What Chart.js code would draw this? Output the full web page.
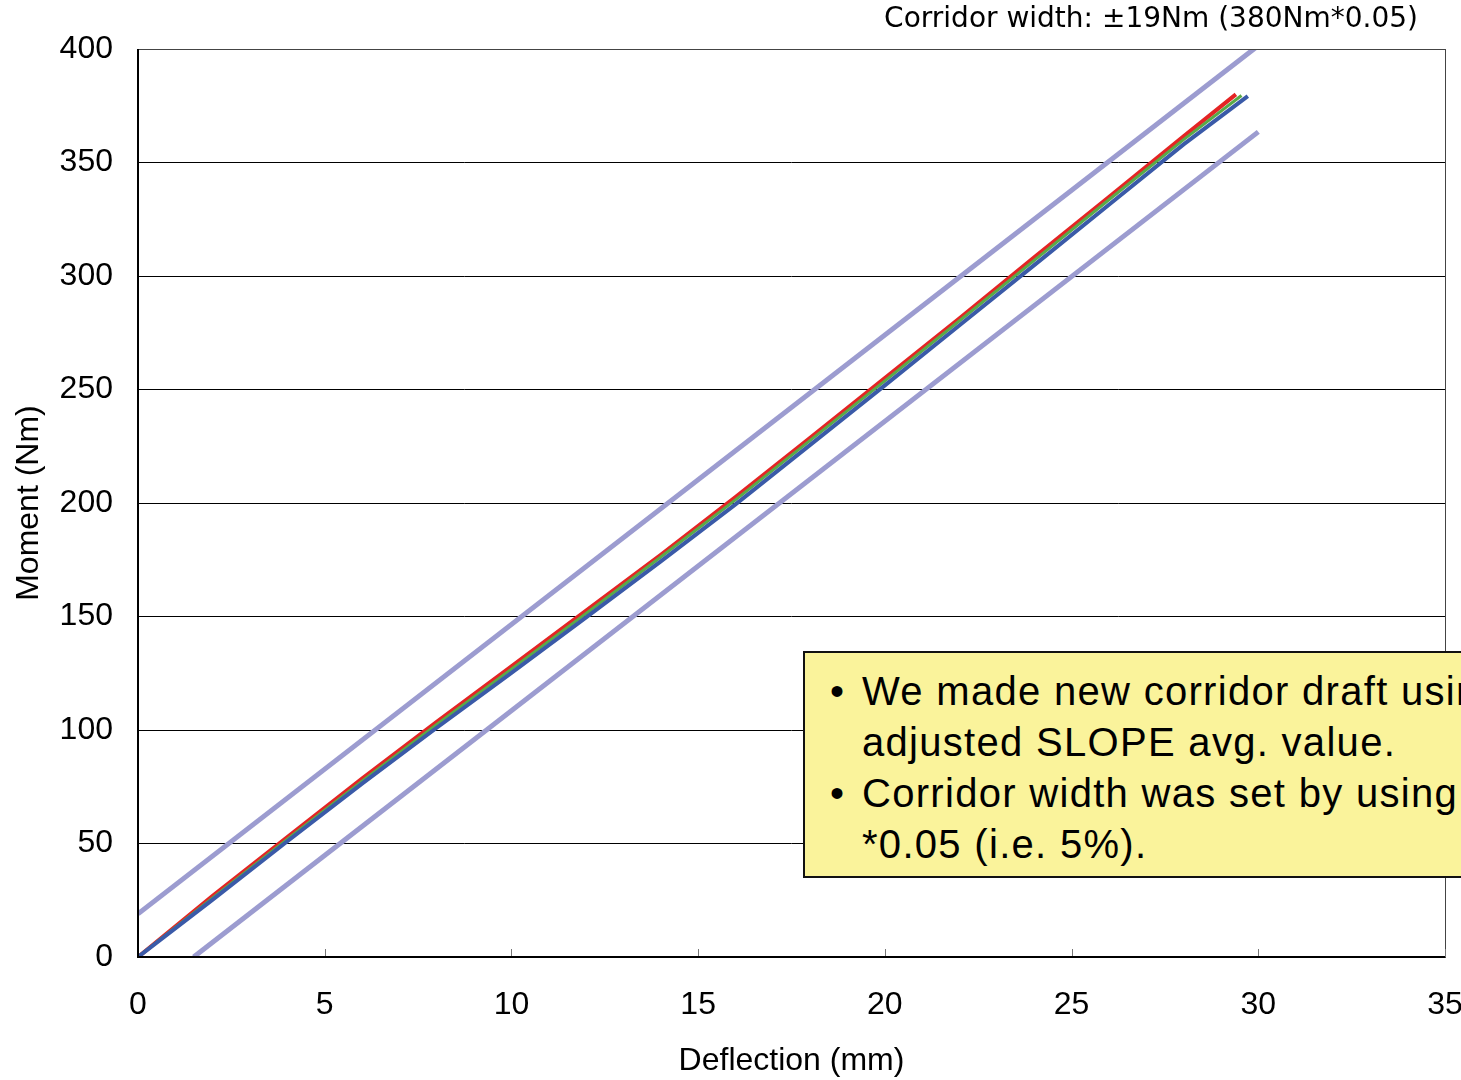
<!DOCTYPE html>
<html>
<head>
<meta charset="utf-8">
<script src="https://cdn.jsdelivr.net/npm/chart.js@4/dist/chart.umd.min.js"></script>
<style>
  html, body { margin: 0; padding: 0; background: #fff; overflow: hidden; }
  #wrap { position: relative; width: 1480px; height: 1080px; }
  #caption {
    position: absolute; right: 62px; top: 1px;
    font: 28px "DejaVu Sans", sans-serif; color: #000; white-space: nowrap;
  }
  #note {
    position: absolute; left: 803px; top: 651px; width: 700px; height: 227px;
    background: #faf39b; border: 2px solid #111; box-sizing: border-box;
    font: 40px "Liberation Sans", Arial, sans-serif; letter-spacing: 1.3px; color: #000; line-height: 51px;
    padding: 13px 0 0 57px;
  }
  #note div { position: relative; white-space: nowrap; }
  #note .b::before { content: "\2022"; position: absolute; left: -32px; }
</style>
</head>
<body>
<div id="wrap">
  <canvas id="chart" width="1480" height="1080"></canvas>
  <div id="caption">Corridor width: ±19Nm (380Nm*0.05)</div>
  <div id="note">
    <div class="b">We made new corridor draft using</div>
    <div>adjusted SLOPE avg. value.</div>
    <div class="b">Corridor width was set by using 380Nm</div>
    <div>*0.05 (i.e. 5%).</div>
  </div>
</div>
<script>
// deflection (mm) sample points for the measured runs
const defl = [0, 2, 4, 6, 8, 10, 12, 14, 16, 18, 20, 22, 24, 26, 28];
const redMoment   = [0, 27.0, 52.8, 78.6, 103.6, 128.0, 152.6, 177.2, 202.6, 228.7, 255.0, 281.4, 308.2, 334.8, 361.5];
const greenMoment = [0, 26.0, 51.9, 77.4, 102.5, 126.8, 151.3, 176.2, 201.4, 227.6, 253.8, 280.3, 306.9, 333.6, 360.1];
const blueMoment  = [0, 25.3, 51.0, 76.4, 101.0, 125.2, 149.6, 174.3, 199.4, 225.6, 251.8, 278.3, 304.8, 331.4, 358.0];
const runEnds = { red: [29.4, 380], green: [29.55, 379.5], blue: [29.72, 379.2] };

// corridor: slope avg line +/- 19Nm
const upperCorridor = [[0, 19], [30, 401.5]];
const lowerCorridor = [[1.49, 0], [30, 363.5]];

const xTicks = [0, 5, 10, 15, 20, 25, 30, 35];
const yTicks = [0, 50, 100, 150, 200, 250, 300, 350, 400];

function toPoints(xs, ys, end) {
    const pts = xs.map((x, i) => ({ x: x, y: ys[i] }));
    if (end) pts.push({ x: end[0], y: end[1] });
    return pts;
}
function pairs(arr) {
    return arr.map(p => ({ x: p[0], y: p[1] }));
}

const lineStyle = { showLine: true, pointRadius: 0, fill: false, tension: 0 };

// frame + inward x ticks, like the original plot
const framePlugin = {
    id: 'frame',
    afterDatasetsDraw(chart) {
        const { ctx, chartArea: a, scales } = chart;
        ctx.save();
        ctx.strokeStyle = '#444';
        ctx.lineWidth = 1;
        ctx.strokeRect(a.left + 0.5, a.top + 0.5, a.right - a.left, a.bottom - a.top);
        ctx.strokeStyle = '#777';
        xTicks.forEach(v => {
            const px = Math.round(scales.x.getPixelForValue(v)) + 0.5;
            ctx.beginPath();
            ctx.moveTo(px, a.bottom);
            ctx.lineTo(px, a.bottom - 8);
            ctx.stroke();
        });
        ctx.strokeStyle = '#000';
        ctx.lineWidth = 2;
        ctx.beginPath();
        ctx.moveTo(a.left, a.top);
        ctx.lineTo(a.left, a.bottom);
        ctx.lineTo(a.right, a.bottom);
        ctx.stroke();
        ctx.restore();
    }
};

new Chart(document.getElementById('chart'), {
    type: 'scatter',
    data: {
        datasets: [
            { label: 'run 3', data: toPoints(defl, blueMoment, runEnds.blue), borderColor: '#3a5aa8', borderWidth: 4, ...lineStyle },
            { label: 'run 2', data: toPoints(defl, greenMoment, runEnds.green), borderColor: '#5aaa48', borderWidth: 3, ...lineStyle },
            { label: 'run 1', data: toPoints(defl, redMoment, runEnds.red), borderColor: '#e42424', borderWidth: 4, ...lineStyle },
            { label: 'upper', data: pairs(upperCorridor), borderColor: '#9c9cd0', borderWidth: 5, ...lineStyle },
            { label: 'lower', data: pairs(lowerCorridor), borderColor: '#9c9cd0', borderWidth: 5, ...lineStyle }
        ]
    },
    options: {
        responsive: false,
        animation: false,
        layout: { padding: { top: 49, right: 35, left: 0, bottom: 0 } },
        plugins: { legend: { display: false }, tooltip: { enabled: false } },
        scales: {
            x: {
                type: 'linear', min: 0, max: 35,
                afterBuildTicks: s => { s.ticks = xTicks.map(v => ({ value: v })); },
                grid: { display: false, drawTicks: false },
                border: { display: false },
                ticks: { color: '#000', font: { family: 'Liberation Sans', size: 32 }, padding: 29, maxRotation: 0 },
                title: { display: true, text: 'Deflection (mm)', color: '#000', font: { family: 'Liberation Sans', size: 32 }, padding: { top: 2, bottom: 0 } },
                afterFit: s => { s.height = 1080 - 957; s.paddingLeft = 0; s.paddingRight = 0; }
            },
            y: {
                type: 'linear', min: 0, max: 400,
                afterBuildTicks: s => { s.ticks = yTicks.map(v => ({ value: v })); },
                grid: { color: '#000', lineWidth: 1, drawTicks: false },
                border: { display: false },
                ticks: { color: '#000', font: { family: 'Liberation Sans', size: 32 }, padding: 25 },
                title: { display: true, text: 'Moment (Nm)', color: '#000', font: { family: 'Liberation Sans', size: 32 }, padding: { top: 10, bottom: 8 } },
                afterFit: s => { s.width = 138; s.paddingTop = 0; s.paddingBottom = 0; }
            }
        }
    },
    plugins: [framePlugin]
});
</script>
</body>
</html>
